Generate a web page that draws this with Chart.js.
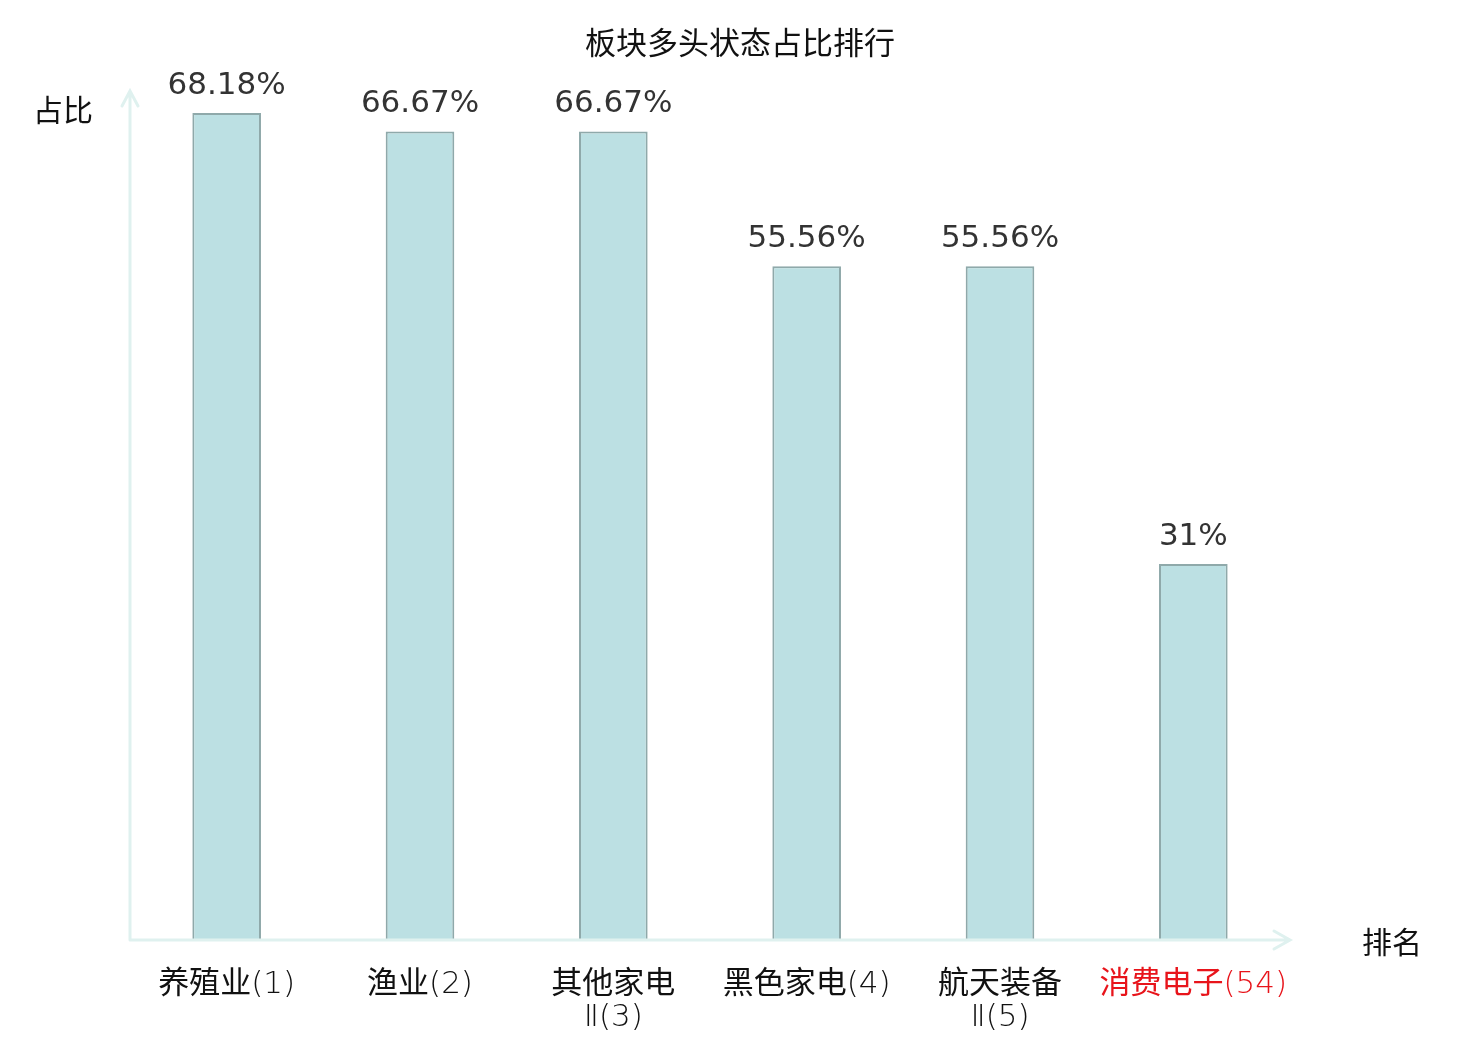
<!DOCTYPE html>
<html>
<head>
<meta charset="utf-8">
<script src="https://cdn.jsdelivr.net/npm/chart.js@4.4.0/dist/chart.umd.min.js"></script>
<style>
html,body{margin:0;padding:0;background:#fff;}
#wrap{width:1480px;height:1040px;position:relative;}
</style>
</head>
<body>
<div id="wrap"><canvas id="c" width="1480" height="1040"></canvas></div>
<script>
const categories = [["养殖业(1)"], ["渔业(2)"], ["其他家电", "Ⅱ(3)"], ["黑色家电(4)"], ["航天装备", "Ⅱ(5)"], ["消费电子(54)"]];
const values = [68.18, 66.67, 66.67, 55.56, 55.56, 31];
const valueLabels = ["68.18%", "66.67%", "66.67%", "55.56%", "55.56%", "31%"];
const labelColors = ["#111", "#111", "#111", "#111", "#111", "#e8141b"];
const titleText = "板块多头状态占比排行";
const yName = "占比";
const xName = "排名";

const AXIS = "#dff1ef";
const CJK = '"Noto Sans CJK SC", "Noto Sans", sans-serif';
const LABEL_FONT = '"DejaVu Sans Light", "Noto Sans CJK SC", sans-serif';

const deco = {
  id: 'deco',
  afterDraw(chart) {
    const ctx = chart.ctx;
    const a = chart.chartArea;
    ctx.save();
    // axes with arrows
    ctx.strokeStyle = AXIS;
    ctx.lineWidth = 3;
    ctx.lineCap = 'round';
    ctx.beginPath();
    ctx.moveTo(a.left, a.bottom);
    ctx.lineTo(a.left, a.top);
    ctx.moveTo(a.left - 8, a.top + 15);
    ctx.lineTo(a.left, a.top);
    ctx.lineTo(a.left + 8, a.top + 15);
    ctx.moveTo(a.left, a.bottom);
    ctx.lineTo(a.right, a.bottom);
    ctx.moveTo(a.right - 16, a.bottom - 9);
    ctx.lineTo(a.right, a.bottom);
    ctx.lineTo(a.right - 16, a.bottom + 9);
    ctx.stroke();
    // title
    ctx.fillStyle = '#111';
    ctx.textAlign = 'center';
    ctx.textBaseline = 'middle';
    ctx.font = '400 31px ' + CJK;
    ctx.fillText(titleText, 740, 42);
    // axis names
    ctx.font = '400 30px ' + CJK;
    ctx.fillText(yName, 63, 110);
    ctx.fillText(xName, 1392, 942);
    // value labels
    const meta = chart.getDatasetMeta(0);
    ctx.fillStyle = '#333';
    ctx.font = '31px "DejaVu Sans", sans-serif';
    ctx.textBaseline = 'alphabetic';
    meta.data.forEach((bar, i) => {
      ctx.fillText(valueLabels[i], bar.x, bar.y - 19);
    });
    ctx.restore();
  }
};

new Chart(document.getElementById('c'), {
  type: 'bar',
  data: {
    labels: categories,
    datasets: [{
      data: values,
      backgroundColor: '#bce0e3',
      borderColor: '#8fa9aa',
      borderWidth: 2,
      barPercentage: 0.71,
      categoryPercentage: 0.5
    }]
  },
  options: {
    responsive: false,
    animation: false,
    devicePixelRatio: 1,
    layout: { padding: { left: 130, right: 190, top: 91, bottom: 0 } },
    plugins: { legend: { display: false }, tooltip: { enabled: false }, title: { display: false } },
    scales: {
      x: {
        grid: { display: false, drawTicks: false },
        border: { display: false },
        afterFit: (scale) => { scale.height = 100; },
        ticks: {
          padding: 29,
          maxRotation: 0,
          autoSkip: false,
          color: (c) => labelColors[c.index],
          font: { family: LABEL_FONT, size: 31, weight: 400, lineHeight: 1.05 }
        }
      },
      y: {
        display: true,
        min: 0,
        max: 70,
        grid: { display: false, drawTicks: false },
        border: { display: false },
        ticks: { display: false }
      }
    }
  },
  plugins: [deco]
});
</script>
</body>
</html>
